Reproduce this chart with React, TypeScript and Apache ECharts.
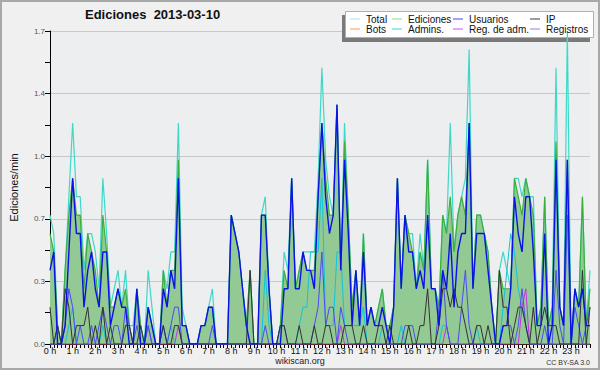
import React, { useEffect, useRef } from "react";
import * as echarts from "echarts";

const HOUR_LABELS = [
  "0 h", "1 h", "2 h", "3 h", "4 h", "5 h", "6 h", "7 h", "8 h", "9 h", "10 h", "11 h",
  "12 h", "13 h", "14 h", "15 h", "16 h", "17 h", "18 h", "19 h", "20 h", "21 h", "22 h", "23 h",
];

const SLOTS: string[] = [];
for (let h = 0; h < 24; h++) for (let m = 0; m < 60; m += 10) SLOTS.push(`${h}:${m === 0 ? "00" : m}`);

const TOTAL = [
  0.7, 0.6, 0.1, 0.0, 0.4, 0.8, 1.2, 0.8, 0.8, 0.4, 0.6, 0.6,
  0.5, 0.3, 0.9, 0.6, 0.2, 0.3, 0.4, 0.2, 0.4, 0.1, 0.1, 0.3,
  0.1, 0.0, 0.4, 0.2, 0.0, 0.0, 0.4, 0.3, 0.5, 0.5, 1.2, 0.2,
  0.1, 0.0, 0.0, 0.0, 0.1, 0.1, 0.2, 0.3, 0.0, 0.0, 0.0, 0.0,
  0.7, 0.6, 0.5, 0.3, 0.1, 0.4, 0.0, 0.0, 0.7, 0.8, 0.3, 0.0,
  0.0, 0.1, 0.5, 0.4, 0.9, 0.3, 0.4, 0.5, 0.5, 0.5, 0.5, 0.9,
  1.5, 1.0, 0.8, 0.7, 1.3, 0.4, 1.2, 0.7, 0.2, 0.4, 0.1, 0.6,
  0.1, 0.2, 0.1, 0.2, 0.3, 0.1, 0.1, 0.2, 0.9, 0.3, 0.7, 0.6,
  0.6, 0.3, 0.6, 0.4, 1.0, 0.3, 0.3, 0.2, 0.7, 0.6, 1.2, 0.5,
  0.7, 0.8, 0.9, 1.6, 0.3, 0.7, 0.7, 0.6, 0.5, 0.2, 0.0, 0.4,
  0.5, 0.4, 0.3, 0.9, 0.9, 0.8, 0.9, 0.8, 0.8, 0.1, 0.2, 0.8,
  0.1, 0.2, 1.5, 0.2, 0.1, 1.7, 0.0, 0.3, 0.2, 0.8, 0.1, 0.4,
];

const EDICIONES = [
  0.6, 0.5, 0.1, 0.0, 0.4, 0.7, 0.9, 0.7, 0.7, 0.3, 0.6, 0.5,
  0.4, 0.2, 0.7, 0.5, 0.2, 0.2, 0.3, 0.2, 0.3, 0.1, 0.0, 0.3,
  0.1, 0.0, 0.2, 0.1, 0.0, 0.0, 0.4, 0.2, 0.4, 0.4, 1.0, 0.1,
  0.1, 0.0, 0.0, 0.0, 0.1, 0.1, 0.2, 0.2, 0.0, 0.0, 0.0, 0.0,
  0.7, 0.6, 0.5, 0.3, 0.1, 0.4, 0.0, 0.0, 0.7, 0.7, 0.3, 0.0,
  0.0, 0.1, 0.4, 0.3, 0.9, 0.3, 0.4, 0.5, 0.4, 0.4, 0.4, 0.8,
  1.2, 0.9, 0.7, 0.7, 1.3, 0.4, 1.1, 0.7, 0.2, 0.4, 0.1, 0.6,
  0.1, 0.2, 0.1, 0.2, 0.3, 0.1, 0.1, 0.2, 0.9, 0.3, 0.7, 0.6,
  0.5, 0.3, 0.5, 0.4, 1.0, 0.3, 0.3, 0.2, 0.7, 0.6, 0.8, 0.5,
  0.7, 0.8, 0.7, 1.2, 0.3, 0.7, 0.7, 0.6, 0.5, 0.2, 0.0, 0.4,
  0.3, 0.3, 0.3, 0.9, 0.8, 0.7, 0.9, 0.8, 0.7, 0.1, 0.2, 0.8,
  0.1, 0.2, 1.1, 0.2, 0.1, 1.0, 0.0, 0.3, 0.2, 0.8, 0.1, 0.3,
];

const USUARIOS = [
  0.4, 0.5, 0.0, 0.0, 0.1, 0.5, 0.9, 0.6, 0.6, 0.2, 0.4, 0.5,
  0.3, 0.2, 0.5, 0.5, 0.1, 0.2, 0.3, 0.2, 0.2, 0.0, 0.0, 0.3,
  0.0, 0.0, 0.2, 0.1, 0.0, 0.0, 0.3, 0.2, 0.4, 0.3, 0.9, 0.1,
  0.1, 0.0, 0.0, 0.0, 0.1, 0.1, 0.2, 0.2, 0.0, 0.0, 0.0, 0.0,
  0.7, 0.6, 0.5, 0.3, 0.1, 0.0, 0.0, 0.0, 0.7, 0.7, 0.3, 0.0,
  0.0, 0.0, 0.3, 0.3, 0.9, 0.3, 0.3, 0.5, 0.4, 0.4, 0.3, 0.8,
  1.2, 0.8, 0.6, 0.7, 1.3, 0.4, 1.0, 0.6, 0.1, 0.4, 0.1, 0.5,
  0.1, 0.2, 0.1, 0.1, 0.2, 0.1, 0.0, 0.2, 0.9, 0.3, 0.7, 0.5,
  0.5, 0.3, 0.4, 0.3, 0.7, 0.3, 0.3, 0.1, 0.4, 0.3, 0.6, 0.2,
  0.5, 0.6, 0.6, 1.2, 0.3, 0.6, 0.6, 0.6, 0.4, 0.2, 0.0, 0.0,
  0.1, 0.1, 0.3, 0.8, 0.6, 0.5, 0.8, 0.8, 0.5, 0.1, 0.1, 0.6,
  0.0, 0.1, 1.0, 0.2, 0.1, 1.0, 0.0, 0.3, 0.2, 0.3, 0.1, 0.1,
];

const IP = [
  0.2, 0.0, 0.1, 0.0, 0.3, 0.2, 0.0, 0.1, 0.1, 0.1, 0.2, 0.0,
  0.1, 0.0, 0.2, 0.0, 0.1, 0.0, 0.0, 0.0, 0.1, 0.1, 0.0, 0.0,
  0.1, 0.0, 0.0, 0.0, 0.0, 0.0, 0.1, 0.0, 0.0, 0.1, 0.1, 0.0,
  0.0, 0.0, 0.0, 0.0, 0.0, 0.0, 0.0, 0.0, 0.0, 0.0, 0.0, 0.0,
  0.0, 0.0, 0.0, 0.0, 0.0, 0.4, 0.0, 0.0, 0.0, 0.0, 0.0, 0.0,
  0.0, 0.1, 0.1, 0.0, 0.0, 0.0, 0.1, 0.0, 0.0, 0.0, 0.1, 0.0,
  0.0, 0.1, 0.1, 0.0, 0.0, 0.0, 0.1, 0.1, 0.1, 0.0, 0.0, 0.1,
  0.0, 0.0, 0.0, 0.1, 0.1, 0.0, 0.1, 0.0, 0.0, 0.0, 0.0, 0.1,
  0.0, 0.0, 0.1, 0.1, 0.3, 0.0, 0.0, 0.1, 0.3, 0.3, 0.2, 0.3,
  0.2, 0.2, 0.1, 0.0, 0.0, 0.1, 0.1, 0.0, 0.1, 0.0, 0.0, 0.4,
  0.2, 0.2, 0.0, 0.1, 0.2, 0.2, 0.1, 0.0, 0.2, 0.0, 0.1, 0.2,
  0.1, 0.1, 0.1, 0.0, 0.0, 0.0, 0.0, 0.0, 0.0, 0.4, 0.0, 0.2,
];

const BOTS = [
  0, 0, 0, 0, 0, 0, 0, 0, 0, 0, 0, 0, 0, 0, 0, 0, 0, 0, 0, 0, 0, 0, 0, 0,
  0, 0, 0, 0, 0, 0, 0, 0, 0, 0, 0, 0, 0, 0, 0, 0, 0, 0, 0, 0, 0, 0, 0, 0,
  0, 0, 0, 0, 0, 0, 0, 0, 0, 0, 0, 0, 0, 0, 0, 0, 0, 0, 0, 0, 0, 0, 0, 0,
  0, 0, 0, 0, 0, 0, 0, 0, 0, 0, 0, 0, 0, 0, 0, 0, 0, 0, 0, 0, 0, 0, 0, 0,
  0, 0, 0, 0, 0, 0, 0, 0, 0, 0, 0, 0, 0, 0, 0, 0, 0, 0, 0, 0, 0, 0, 0, 0,
  0, 0, 0, 0, 0, 0, 0, 0, 0, 0, 0, 0, 0, 0, 0, 0, 0, 0, 0, 0, 0, 0, 0, 0,
];

const ADMINS = [
  0.0, 0.0, 0.0, 0.0, 0.0, 0.1, 0.2, 0.0, 0.0, 0.0, 0.0, 0.0,
  0.0, 0.0, 0.1, 0.0, 0.0, 0.0, 0.0, 0.0, 0.0, 0.0, 0.0, 0.0,
  0.0, 0.0, 0.1, 0.0, 0.0, 0.0, 0.1, 0.0, 0.1, 0.0, 0.0, 0.0,
  0.0, 0.0, 0.0, 0.0, 0.0, 0.0, 0.0, 0.0, 0.0, 0.0, 0.0, 0.0,
  0.0, 0.0, 0.0, 0.0, 0.0, 0.0, 0.0, 0.0, 0.0, 0.4, 0.1, 0.0,
  0.0, 0.0, 0.0, 0.0, 0.0, 0.0, 0.1, 0.2, 0.2, 0.5, 0.5, 0.5,
  0.9, 0.1, 0.1, 0.1, 0.5, 0.5, 0.1, 0.1, 0.1, 0.1, 0.1, 0.2,
  0.0, 0.0, 0.0, 0.0, 0.1, 0.0, 0.0, 0.0, 0.0, 0.1, 0.0, 0.0,
  0.0, 0.0, 0.0, 0.0, 0.0, 0.0, 0.0, 0.0, 0.1, 0.1, 0.0, 0.0,
  0.0, 0.0, 0.0, 0.0, 0.0, 0.1, 0.0, 0.0, 0.0, 0.0, 0.0, 0.0,
  0.2, 0.4, 0.6, 0.5, 0.3, 0.2, 0.1, 0.0, 0.0, 0.0, 0.0, 0.0,
  0.0, 0.0, 0.0, 0.0, 0.0, 0.0, 0.0, 0.0, 0.0, 0.0, 0.0, 0.0,
];

const REG_ADM = [
  0, 0, 0, 0, 0, 0, 0, 0, 0, 0, 0, 0, 0, 0, 0, 0, 0, 0, 0, 0, 0, 0, 0, 0,
  0, 0, 0.1, 0, 0, 0, 0, 0, 0, 0, 0.1, 0, 0, 0, 0, 0, 0, 0, 0, 0, 0, 0, 0, 0,
  0, 0, 0, 0, 0, 0, 0, 0, 0, 0, 0, 0, 0, 0, 0, 0, 0, 0, 0, 0, 0, 0, 0, 0,
  0, 0, 0, 0, 0, 0.1, 0, 0, 0, 0, 0, 0, 0, 0, 0, 0, 0, 0, 0, 0, 0, 0, 0, 0,
  0, 0, 0, 0, 0, 0, 0, 0, 0, 0.1, 0, 0, 0, 0, 0, 0, 0, 0, 0, 0, 0, 0, 0, 0,
  0, 0, 0, 0, 0, 0.2, 0.3, 0, 0, 0, 0, 0, 0, 0, 0, 0, 0, 0, 0, 0, 0, 0, 0, 0,
];

const REGISTROS = [
  0.0, 0.0, 0.1, 0.0, 0.1, 0.3, 0.2, 0.0, 0.1, 0.0, 0.0, 0.1,
  0.0, 0.1, 0.2, 0.1, 0.0, 0.1, 0.1, 0.0, 0.2, 0.1, 0.0, 0.1,
  0.0, 0.0, 0.1, 0.0, 0.0, 0.0, 0.1, 0.0, 0.1, 0.2, 0.2, 0.0,
  0.0, 0.0, 0.0, 0.0, 0.0, 0.0, 0.0, 0.1, 0.0, 0.0, 0.0, 0.0,
  0.0, 0.0, 0.0, 0.0, 0.0, 0.0, 0.0, 0.0, 0.0, 0.1, 0.0, 0.0,
  0.0, 0.1, 0.1, 0.0, 0.0, 0.0, 0.0, 0.0, 0.0, 0.0, 0.1, 0.2,
  0.5, 0.1, 0.2, 0.2, 0.0, 0.2, 0.1, 0.0, 0.0, 0.0, 0.0, 0.0,
  0.0, 0.0, 0.0, 0.0, 0.0, 0.0, 0.0, 0.0, 0.0, 0.0, 0.1, 0.1,
  0.1, 0.0, 0.0, 0.0, 0.0, 0.0, 0.0, 0.2, 0.4, 0.1, 0.0, 0.0,
  0.0, 0.2, 0.4, 0.1, 0.0, 0.0, 0.0, 0.0, 0.0, 0.0, 0.0, 0.0,
  0.1, 0.1, 0.1, 0.0, 0.1, 0.3, 0.1, 0.0, 0.0, 0.0, 0.0, 0.1,
  0.0, 0.0, 0.4, 0.1, 0.0, 0.7, 0.0, 0.2, 0.1, 0.0, 0.1, 0.2,
];

const FONT = "'Liberation Sans', Arial, sans-serif";

export default function App() {
  const ref = useRef<HTMLDivElement>(null);

  useEffect(() => {
    if (!ref.current) return;
    const chart = echarts.init(ref.current, null, { renderer: "svg" });

    const line = (name: string, data: number[], color: string, width = 1, extra: any = {}) => ({
      name,
      type: "line",
      data,
      symbol: "none",
      showSymbol: false,
      lineStyle: { color, width },
      itemStyle: { color },
      emphasis: { disabled: true },
      ...extra,
    });

    const legendCol = (left: number, items: { name: string; color: string }[]) => ({
      left,
      top: 14,
      orient: "vertical",
      padding: 0,
      itemGap: 0,
      itemWidth: 10,
      itemHeight: 1,
      icon: "rect",
      selectedMode: false,
      textStyle: { fontFamily: FONT, fontSize: 10, color: "#111", lineHeight: 10, padding: [0, 0, 0, 1] },
      data: items.map((it) => ({
        name: it.name,
        icon: "rect",
        itemStyle: { color: it.color, borderWidth: 0 },
      })),
    });

    chart.setOption({
      animation: false,
      backgroundColor: "#f0f0f0",
      title: {
        text: "Ediciones  2013-03-10",
        left: 85,
        top: 8,
        padding: 0,
        textStyle: { fontFamily: FONT, fontSize: 13, fontWeight: "bold", color: "#111" },
      },
      legend: [
        legendCol(350, [
          { name: "Total", color: "#a6e6de" },
          { name: "Bots", color: "#f2a03c" },
        ]),
        legendCol(392, [
          { name: "Ediciones", color: "#8fd48f" },
          { name: "Admins.", color: "#40cfe0" },
        ]),
        legendCol(453, [
          { name: "Usuarios", color: "#4646e6" },
          { name: "Reg. de adm.", color: "#d24ee6" },
        ]),
        legendCol(530, [
          { name: "IP", color: "#3a3a3a" },
          { name: "Registros", color: "#8484f4" },
        ]),
      ],
      grid: {
        left: 45,
        right: 10,
        top: 31,
        bottom: 26,
        show: true,
        backgroundColor: "#edeef0",
        borderWidth: 0,
      },
      xAxis: {
        type: "category",
        data: SLOTS,
        boundaryGap: false,
        axisLine: { show: true, lineStyle: { color: "#000", width: 1 } },
        axisTick: { show: true, interval: 0, length: 4, lineStyle: { color: "#000" } },
        axisLabel: {
          interval: 5,
          margin: 2,
          fontFamily: FONT,
          fontSize: 9,
          color: "#111",
          formatter: (_v: string, idx: number) => HOUR_LABELS[Math.round(idx / 6)] ?? "",
        },
        splitLine: { show: false },
      },
      yAxis: {
        type: "value",
        min: 0,
        max: 1.7,
        interval: 0.34,
        name: "Ediciones/min",
        nameLocation: "middle",
        nameGap: 31,
        nameTextStyle: { fontFamily: FONT, fontSize: 11, color: "#111" },
        axisLine: { show: true, lineStyle: { color: "#000", width: 1 } },
        axisTick: { show: true, length: 5, lineStyle: { color: "#000" } },
        minorTick: { show: true, splitNumber: 2, length: 5, lineStyle: { color: "#000" } },
        axisLabel: {
          margin: 5,
          fontFamily: FONT,
          fontSize: 8,
          color: "#555",
          formatter: (v: number) => v.toFixed(1),
        },
        splitLine: { show: true, lineStyle: { color: "#c8c8c8", width: 1 } },
      },
      graphic: [
        {
          type: "rect",
          z: 1,
          shape: { x: 342, y: 15, width: 248, height: 27 },
          style: { fill: "#7a7a7a" },
        },
        {
          type: "rect",
          z: 1,
          shape: { x: 345.5, y: 11.5, width: 248, height: 26 },
          style: { fill: "#ffffff", stroke: "#b0b0b0", lineWidth: 1 },
        },
        {
          type: "text",
          z: 5,
          x: 300,
          y: 361,
          style: {
            text: "wikiscan.org",
            fill: "#222",
            font: `9px ${FONT}`,
            textAlign: "center",
            textVerticalAlign: "middle",
          },
        },
        {
          type: "text",
          z: 5,
          x: 590,
          y: 362,
          style: {
            text: "CC BY-SA 3.0",
            fill: "#333",
            font: `7px ${FONT}`,
            textAlign: "right",
            textVerticalAlign: "middle",
          },
        },
        {
          type: "rect",
          z: 10,
          shape: { x: 1, y: 1, width: 598, height: 368 },
          style: { fill: "none", stroke: "#a8a8a8", lineWidth: 2 },
        },
      ],
      series: [
        line("Bots", BOTS, "#f0a030", 1),
        line("Total", TOTAL, "#3ed8c8", 1.2),
        line("Ediciones", EDICIONES, "#3cae3c", 1.2, {
          areaStyle: { color: "#93c993", opacity: 1 },
        }),
        line("Admins.", ADMINS, "#12c4d8", 1),
        line("Reg. de adm.", REG_ADM, "#c833e0", 1),
        line("Registros", REGISTROS, "#4c4cf2", 1),
        line("IP", IP, "#333333", 1),
        line("Usuarios", USUARIOS, "#0a12e8", 1.4),
      ],
    });

    return () => chart.dispose();
  }, []);

  return (
    <div
      ref={ref}
      style={{ position: "fixed", left: 0, top: 0, width: 600, height: 370 }}
    />
  );
}
